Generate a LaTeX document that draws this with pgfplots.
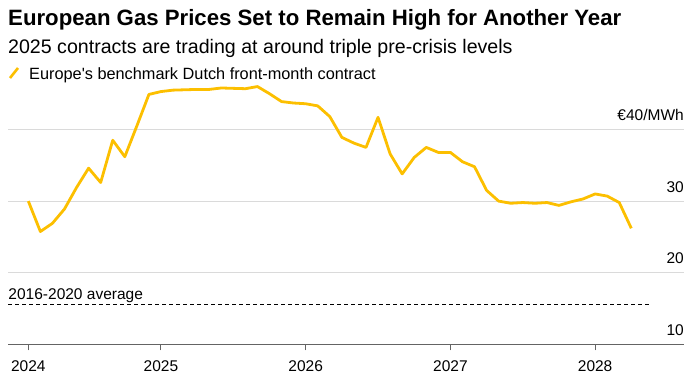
\documentclass[border=0pt]{standalone}
\usepackage{fontspec}
\setmainfont{Liberation Sans}
\usepackage{pgfplots}
\pgfplotsset{compat=1.18}
\definecolor{bbyellow}{RGB}{252,191,0}
\definecolor{gridgray}{RGB}{218,218,218}
\definecolor{axisgray}{RGB}{100,100,100}

\begin{document}
\begin{tikzpicture}
\path[use as bounding box] (0,0) rectangle (696bp,380bp);
\node[anchor=base west, inner sep=0] at (8bp,354bp) {\fontsize{22.2bp}{26bp}\selectfont\bfseries European Gas Prices Set to Remain High for Another Year};
\node[anchor=base west, inner sep=0] at (8bp,326.7bp) {\fontsize{19.6bp}{23bp}\selectfont 2025 contracts are trading at around triple pre-crisis levels};
\draw[bbyellow, line width=2.6bp] (10bp,302bp) -- (18bp,312bp);
\node[anchor=base west, inner sep=0] at (29bp,300bp) {\fontsize{16.3bp}{19bp}\selectfont Europe\textquotesingle s benchmark Dutch front-month contract};
\begin{axis}[
  at={(8.3bp,35.7bp)}, anchor=south west,
  width=675.7bp, height=264.9bp, scale only axis,
  xmin=-0.66, xmax=55.37, ymin=10, ymax=47,
  axis x line=bottom, axis y line=left,
  x axis line style={-, axisgray, line width=1.2bp},
  y axis line style={-, draw=none},
  xtick={1,12,24,36,48}, xticklabels={2024,2025,2026,2027,2028},
  xtick style={axisgray, line width=1bp},
  tick align=outside, major tick length=6bp,
  xticklabel style={font=\fontsize{15.5bp}{18bp}\selectfont, anchor=base, inner sep=0pt, yshift=-21.4bp},
  ytick={20,30,40}, yticklabels={,,}, ytick style={draw=none},
  ymajorgrids, grid style={gridgray, line width=1bp},
  clip=false,
]
\addplot[bbyellow, line width=2.8bp, line join=round] coordinates {
(1,30.0) (2,25.75) (3,26.9) (4,28.9) (5,31.9) (6,34.6) (7,32.6) (8,38.5) (9,36.2) (10,40.5)
(11,44.9) (12,45.3) (13,45.5) (14,45.55) (15,45.6) (16,45.6) (17,45.8) (18,45.75) (19,45.7) (20,46.0)
(21,45.0) (22,43.9) (23,43.7) (24,43.6) (25,43.3) (26,41.8) (27,38.9) (28,38.1) (29,37.5) (30,41.7)
(31,36.6) (32,33.8) (33,36.1) (34,37.5) (35,36.8) (36,36.8) (37,35.5) (38,34.8) (39,31.5) (40,30.0)
(41,29.7) (42,29.8) (43,29.7) (44,29.8) (45,29.4) (46,29.9) (47,30.3) (48,31.0) (49,30.7) (50,29.8)
(51,26.2)
};
\addplot[black, line width=1.1bp, dash pattern=on 4bp off 3bp] coordinates {(-0.66,15.6) (52.55,15.6)};
\node[anchor=base west, inner sep=0, yshift=5bp, font=\fontsize{15.5bp}{18bp}\selectfont] at (axis cs:-0.66,15.6) {2016-2020 average};
\node[anchor=base east, inner sep=0, yshift=9bp, font=\fontsize{15.5bp}{18bp}\selectfont] at (axis cs:55.37,40) {€40/MWh};
\node[anchor=base east, inner sep=0, yshift=9bp, font=\fontsize{15.5bp}{18bp}\selectfont] at (axis cs:55.37,30) {30};
\node[anchor=base east, inner sep=0, yshift=9bp, font=\fontsize{15.5bp}{18bp}\selectfont] at (axis cs:55.37,20) {20};
\node[anchor=base east, inner sep=0, yshift=9bp, font=\fontsize{15.5bp}{18bp}\selectfont] at (axis cs:55.37,10) {10};
\end{axis}
\end{tikzpicture}
\end{document}
